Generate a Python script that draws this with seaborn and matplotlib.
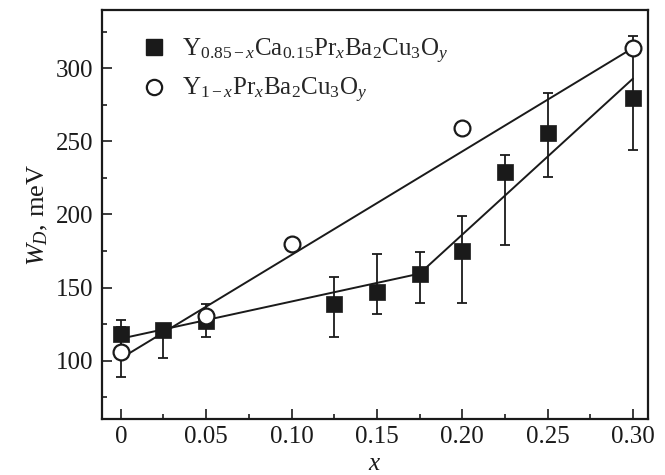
import numpy as np
import pandas as pd
import matplotlib
matplotlib.use("Agg")
import matplotlib.pyplot as plt
from matplotlib.lines import Line2D
from matplotlib.ticker import MultipleLocator, FixedLocator
import seaborn as sns

# Y(0.85-x)Ca(0.15)Pr(x)Ba2Cu3Oy  -- filled squares
sq_x = [0.0, 0.025, 0.05, 0.125, 0.15, 0.175, 0.20, 0.225, 0.25, 0.30]
sq_y = [118.5, 121, 127.4, 139, 146.6, 159, 174.7, 228.8, 256, 280]
sq_err_lo = [9.5, 19, 11.4, 23, 14.6, 19.3, 35, 50, 30, 36]
sq_err_hi = [9.5, 0, 11.4, 18.5, 26.4, 15, 24.3, 11.6, 27, 42]

# Y(1-x)Pr(x)Ba2Cu3Oy  -- open circles
ci_x = [0.0, 0.05, 0.10, 0.20, 0.30]
ci_y = [106, 130.5, 180, 259, 313.7]
ci_err = [17, 0, 0, 0, 0]

# guide lines drawn in the original figure
fit_sq_x = [0.0, 0.175, 0.30]
fit_sq_y = [115, 159.5, 293]
fit_ci_x = [0.0, 0.30]
fit_ci_y = [101.5, 314]

x_ticks = [0, 0.05, 0.10, 0.15, 0.20, 0.25, 0.30]
x_labels = ["0", "0.05", "0.10", "0.15", "0.20", "0.25", "0.30"]
y_ticks = [100, 150, 200, 250, 300]

label_sq = r"Y$_{0.85-x}$Ca$_{0.15}$Pr$_x$Ba$_2$Cu$_3$O$_y$"
label_ci = r"Y$_{1-x}$Pr$_x$Ba$_2$Cu$_3$O$_y$"

sns.set_theme(style="ticks")
plt.rcParams["font.family"] = ["Liberation Serif", "DejaVu Serif"]
plt.rcParams["mathtext.fontset"] = "custom"
plt.rcParams["mathtext.rm"] = "Liberation Serif"
plt.rcParams["mathtext.it"] = "Liberation Serif:italic"

INK = "#1a1a1a"

fig = plt.figure(figsize=(6.65, 4.75), dpi=100)
ax = fig.add_axes([0.1534, 0.1179, 0.8210, 0.8611])

fits = pd.concat([
    pd.DataFrame({"x": fit_sq_x, "y": fit_sq_y, "s": "sq"}),
    pd.DataFrame({"x": fit_ci_x, "y": fit_ci_y, "s": "ci"}),
])
sns.lineplot(data=fits, x="x", y="y", units="s", estimator=None,
             color=INK, lw=1.4, ax=ax, legend=False, zorder=2)

ax.errorbar(sq_x, sq_y, yerr=[sq_err_lo, sq_err_hi], fmt="none",
            ecolor=INK, elinewidth=1.3, capsize=3.8, capthick=1.3, zorder=3)
ax.errorbar(ci_x, ci_y, yerr=ci_err, fmt="none",
            ecolor=INK, elinewidth=1.3, capsize=3.8, capthick=1.3, zorder=3)

sq_df = pd.DataFrame({"x": sq_x, "y": sq_y})
ci_df = pd.DataFrame({"x": ci_x, "y": ci_y})
sns.scatterplot(data=sq_df, x="x", y="y", marker="s", s=135, color=INK,
                edgecolor=INK, linewidth=0.5, ax=ax, zorder=4)
sns.scatterplot(data=ci_df, x="x", y="y", marker="o", s=130, facecolor="white",
                edgecolor=INK, linewidth=1.6, ax=ax, zorder=5)

ax.set_xlim(-0.011, 0.3088)
ax.set_ylim(60, 340)
ax.xaxis.set_major_locator(FixedLocator(x_ticks))
ax.set_xticklabels(x_labels)
ax.xaxis.set_minor_locator(MultipleLocator(0.025))
ax.yaxis.set_major_locator(FixedLocator(y_ticks))
ax.yaxis.set_minor_locator(MultipleLocator(25))
ax.tick_params(which="both", direction="in", top=False, right=False,
               colors=INK, labelsize=18, width=1.2)
ax.tick_params(which="major", length=7)
ax.tick_params(axis="x", which="major", pad=5)
ax.tick_params(axis="y", which="major", pad=6)
ax.tick_params(which="minor", length=3.8)
for sp in ax.spines.values():
    sp.set_visible(True)
    sp.set_linewidth(1.6)
    sp.set_color(INK)

# axis titles sit close to the tick labels, as in the source figure
ax.set_xlabel(r"$x$", fontsize=18, color=INK)
ax.xaxis.label.set_va("center")
ax.xaxis.set_label_coords(0.5, -0.11)
ax.set_ylabel(r"$W_D$, meV", fontsize=19, color=INK)
ax.yaxis.set_label_coords(-0.095, 0.5)

handles = [
    Line2D([], [], ls="none", marker="s", ms=11, color=INK, label=label_sq),
    Line2D([], [], ls="none", marker="o", ms=11, mfc="white", mec=INK,
           mew=1.6, label=label_ci),
]
ax.legend(handles=handles, loc="upper left", bbox_to_anchor=(0.025, 0.99),
          frameon=False, fontsize=18, handletextpad=0.45, labelspacing=0.42,
          handlelength=1.3)

fig.savefig("out.png", dpi=100)
